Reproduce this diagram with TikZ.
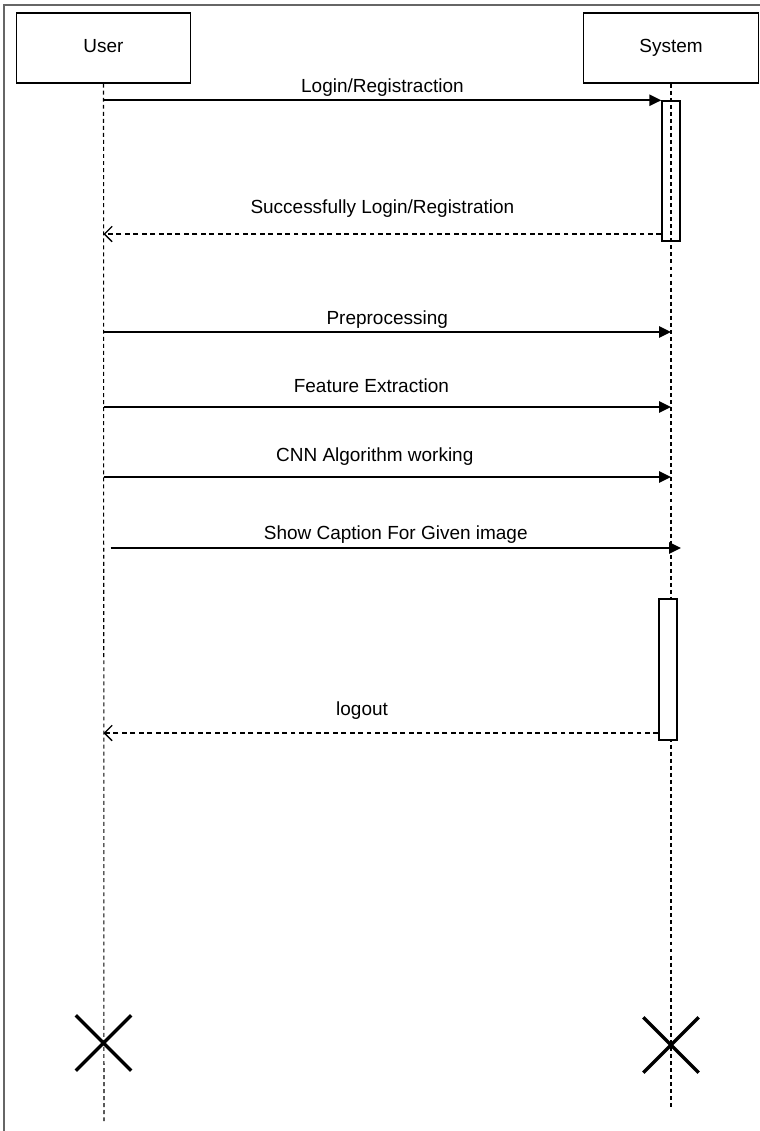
\documentclass[tikz,border=0pt]{standalone}
\usepackage{fontspec}
\setmainfont{Liberation Sans}
\usetikzlibrary{arrows.meta, shapes.misc}
\tikzset{
    actor/.style={draw, line width=1pt, minimum width=4.36cm, minimum height=1.75cm, text height=1.6ex, text depth=.4ex, font=\fontsize{13.5}{16}\selectfont},
    lifeline/.style={line width=.75pt, dash pattern=on 2.8pt off 2.2pt},
    activation/.style={draw, line width=1pt, minimum width=.45cm, inner sep=0pt},
    msg/.style={line width=1.2pt, -{Triangle[length=8.5pt, width=8pt]}},
    reply/.style={line width=1pt, dash pattern=on 3.5pt off 2.5pt, -{Straight Barb[length=5.5pt, width=11pt, line width=.9pt]}},
    lbl/.style={font=\fontsize{13.5}{16}\selectfont, inner sep=0pt, anchor=base},
    destroy/.style={cross out, draw, line width=2.4pt, minimum size=1.3cm, inner sep=0pt}
}

\begin{document}
\begin{tikzpicture}[x=.025cm, y=-.025cm]
    \useasboundingbox (0, 0) rectangle (760, 1131);
    % frame
    \draw[black!60, line width=.8pt] (760, 5) -- (4, 5) -- (4, 1131);
    % actors
    \node[actor] (user) at (103.5, 48) {User};
    \node[actor] (system) at (671, 48) {System};
    \coordinate (userEnd) at (104, 1123);
    \coordinate (systemEnd) at (671, 1107);
    \draw[lifeline] (user.south) -- (userEnd);
    \draw[lifeline] (system.south) -- (systemEnd);
    % activations
    \node[activation, minimum height=3.5cm] (act1) at (671, 171) {};
    \node[activation, fill=white, minimum height=3.525cm] (act2) at (668, 669.5) {};
    % messages
    \draw[msg] (user |- act1.north) -- (act1.north west)
        node[lbl, midway, yshift=.2cm] {Login/Registraction};
    \draw[reply] (act1.west |- 0, 234) -- (user |- 0, 234)
        node[lbl, midway, yshift=.5cm] {Successfully Login/Registration};
    \draw[msg] (user |- 0, 332) -- (system |- 0, 332)
        node[lbl, midway, yshift=.2cm] {Preprocessing};
    \draw[msg] (user |- 0, 407) -- (system |- 0, 407)
        node[lbl, pos=.472, yshift=.375cm] {Feature Extraction};
    \draw[msg] (user |- 0, 477) -- (system |- 0, 477)
        node[lbl, pos=.478, yshift=.4cm] {CNN Algorithm working};
    \draw[msg] ([xshift=.175cm]user |- 0, 548) -- ([xshift=.25cm]system |- 0, 548)
        node[lbl, midway, yshift=.225cm] {Show Caption For Given image};
    \draw[reply] (act2.west |- 0, 733) -- (user |- 0, 733)
        node[lbl, pos=.534, yshift=.45cm] {logout};
    % destruction
    \node[destroy] (userX) at (103.5, 1043) {};
    \node[destroy] (systemX) at (671, 1045) {};
\end{tikzpicture}
\end{document}
